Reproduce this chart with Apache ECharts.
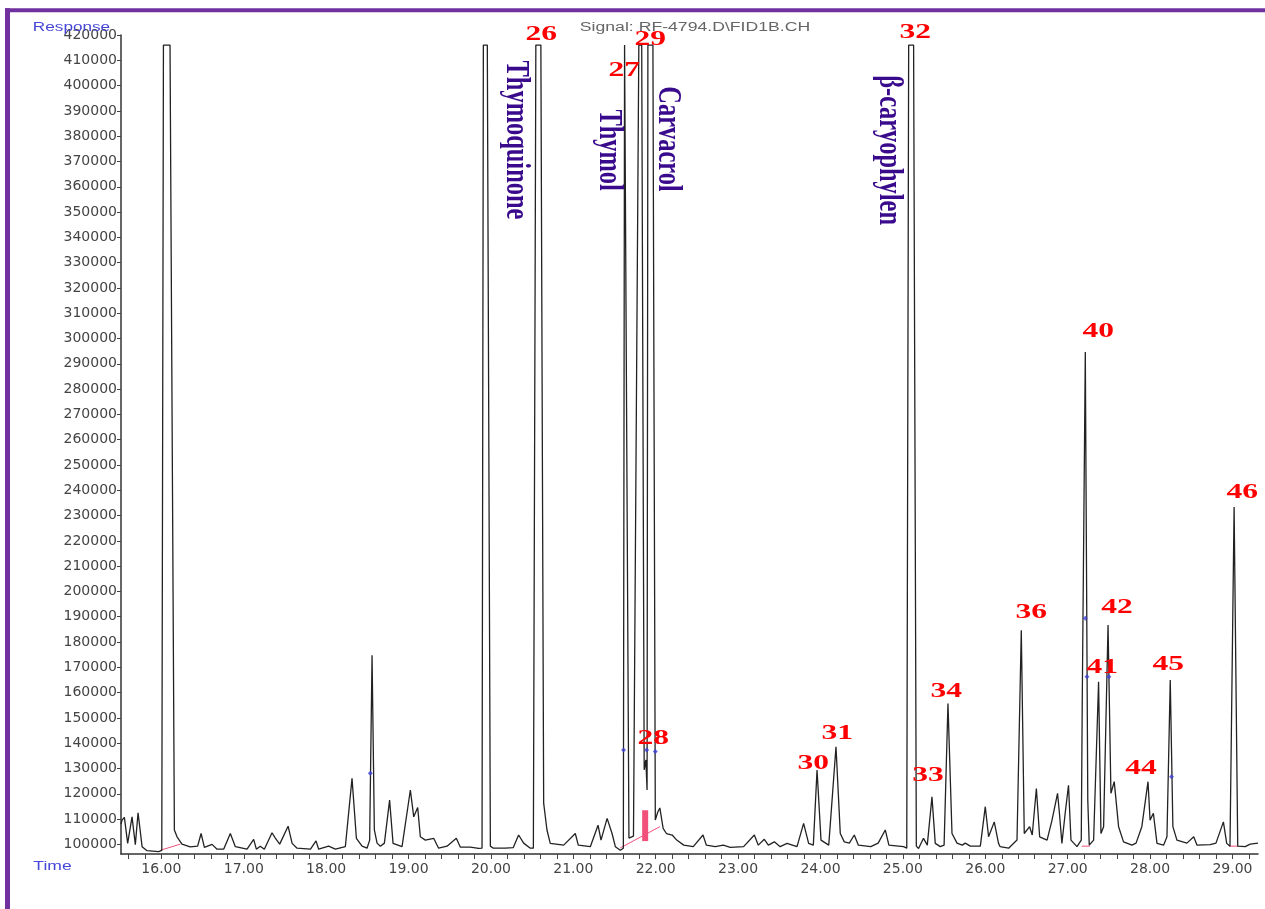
<!DOCTYPE html>
<html>
<head>
<meta charset="utf-8">
<script src="https://cdn.jsdelivr.net/npm/echarts@6/dist/echarts.min.js"></script>
<style>
html,body{margin:0;padding:0;background:#fff;}
#c{width:1265px;height:909px;}
</style>
</head>
<body>
<div id="c"></div>
<script>
// ---- data ----
const xTickLabels = [16,17,18,19,20,21,22,23,24,25,26,27,28,29];
const yTickLabels = [100000,110000,120000,130000,140000,150000,160000,170000,180000,190000,200000,
  210000,220000,230000,240000,250000,260000,270000,280000,290000,300000,310000,320000,330000,
  340000,350000,360000,370000,380000,390000,400000,410000,420000];

// signal trace: [time (min), response]
const trace = [
[15.51,108000],[15.523,109600],[15.551,110700],[15.591,100400],[15.644,110900],[15.684,99900],[15.717,112500],[15.766,99100],[15.826,97500],[15.967,97100],
[16.005,97600],[16.025,416000],[16.105,416000],[16.158,105700],[16.19,103000],[16.25,100100],[16.35,99000],
[16.44,99300],[16.482,104300],[16.522,98800],[16.615,100000],[16.676,98100],[16.756,98100],[16.837,104300],[16.898,99100],[17.04,98100],[17.12,102000],[17.153,98100],[17.20,99300],[17.25,98100],[17.343,104600],[17.383,102500],[17.436,100100],[17.538,107200],[17.587,100400],[17.647,98500],[17.81,98100],[17.877,101400],[17.909,98100],[18.03,99300],[18.112,98100],[18.233,99100],[18.314,126100],[18.367,102400],[18.436,99300],[18.496,98500],[18.528,101700],[18.557,174800],[18.585,105700],[18.618,100500],[18.658,99300],[18.707,100500],[18.77,117500],[18.812,100400],[18.921,99100],[19.022,121500],[19.063,110900],[19.111,114600],[19.143,103000],[19.204,101700],[19.305,102400],[19.365,98500],[19.467,99300],[19.58,102400],[19.629,98900],[19.75,98900],[19.85,98400],
[19.892,98500],[19.908,416000],[19.956,416000],[19.993,99300],[20.029,98500],[20.175,98500],[20.27,98700],[20.336,103700],[20.397,100500],[20.478,98500],
[20.515,98500],[20.545,416000],[20.606,416000],[20.64,116300],[20.68,105700],[20.72,100400],[20.883,99700],[21.024,104300],[21.06,99700],[21.206,99100],[21.30,107600],[21.336,101700],[21.41,110300],[21.47,104300],[21.51,99100],[21.57,97700],
[21.607,98500],[21.622,416000],[21.634,416000],[21.675,102500],[21.73,103300],[21.795,416000],[21.83,416000],[21.86,129500],[21.88,133400],[21.895,121500],[21.905,416000],[21.966,416000],[21.995,109600],[22.025,112800],[22.05,114400],[22.09,106300],[22.13,104300],[22.20,103700],[22.255,101700],[22.34,99700],
[22.456,99100],[22.574,103700],[22.614,99700],[22.723,99100],[22.82,99700],[22.905,98800],[23.067,99100],[23.197,103700],[23.245,99700],[23.318,102000],[23.367,99700],[23.44,101000],[23.51,99100],[23.594,100400],[23.715,99100],[23.795,108300],[23.856,100400],[23.913,99700],[23.958,129400],[24.006,101700],[24.10,99700],[24.188,138600],[24.24,104300],[24.289,101000],[24.35,100500],[24.41,103700],[24.46,99700],[24.61,99100],[24.70,100500],[24.786,105700],[24.83,99700],[25.008,99100],
[25.047,98500],[25.07,416000],[25.13,416000],[25.163,99300],[25.19,98400],[25.25,102400],[25.296,99700],[25.353,118800],[25.393,100400],[25.454,99100],[25.50,99700],[25.547,155700],[25.596,104300],[25.657,100500],[25.72,99700],[25.757,100500],[25.818,99300],[25.94,99300],[26.00,114900],[26.04,103000],[26.109,108900],[26.16,100500],[26.18,99100],[26.283,98500],[26.385,101700],[26.437,184700],[26.473,104300],[26.538,107000],[26.57,103700],[26.62,122100],[26.66,103000],[26.75,101700],[26.81,109600],[26.877,120200],[26.90,112300],[26.93,100400],[26.97,112400],[27.01,123400],[27.04,101700],[27.113,99100],
[27.165,101700],[27.177,157100],[27.214,294700],[27.244,117600],[27.262,99700],[27.315,101700],[27.375,164300],[27.404,104300],[27.436,107000],[27.49,186700],[27.525,120200],[27.565,124800],[27.618,107000],[27.678,101000],[27.78,99700],[27.83,100500],[27.90,107000],[27.975,124800],[28.00,109600],[28.04,112300],[28.084,100400],[28.164,99700],[28.205,103000],[28.245,165000],[28.277,107000],[28.326,101700],[28.447,100500],[28.53,103000],[28.57,99700],[28.73,99900],[28.80,100500],[28.89,108900],[28.93,100400],[28.97,99300],[29.02,233400],[29.064,99300],[29.155,99100],[29.215,100100],[29.31,100500]
];

// integration baselines (pink)
const baselineSegments = [
  [[15.99,97700],[16.23,100100]],
  [[21.57,98600],[22.05,107000]],
  [[27.17,99300],[27.27,99300]],
  [[28.96,99300],[29.07,99300]]
];
const shadedArea28 = [[21.872,101300],[21.872,113500]];

// integration event markers (blue)
const eventMarkers = [[18.536,128100],[21.61,137300],[21.89,137300],[21.995,136700],[27.214,189400],[27.234,166300],[27.50,166300],[28.26,126700]];

// peak numbers: [label, time, response]
const peakNumbers = [
  ['26',20.612,420000],['27',21.619,406100],['29',21.934,418000],['32',25.15,420800],
  ['28',21.97,142000],['30',23.913,132100],['31',24.204,144000],['33',25.305,127400],
  ['34',25.527,160600],['36',26.558,191500],['40',27.371,302600],['41',27.42,170100],
  ['42',27.60,193800],['44',27.89,129800],['45',28.22,170900],['46',29.119,238900]
];
// compound names: [label, time, response] (centre of rotated text)
const compoundNames = [
  ['Thymoquinone',20.296,378500],['Thymol',21.425,374500],
  ['Carvacrol',22.141,378900],['β-caryophylen',24.823,374500]
];

// ---- chart ----
const minorTicks = [];
for (let k = 78; k <= 146; k++) minorTicks.push(+(k*0.2).toFixed(1));

const chart = echarts.init(document.getElementById('c'));
const series = [{
  type:'line', data: trace, showSymbol:false, symbol:'none',
  lineStyle:{color:'#222', width:1.3}, z:3, animation:false
}];
baselineSegments.forEach(seg => series.push({
  type:'line', data: seg, showSymbol:false, symbol:'none',
  lineStyle:{color:'#f0507a', width:1}, z:2, animation:false
}));
series.push({type:'line', data: shadedArea28, showSymbol:false, symbol:'none',
  lineStyle:{color:'#f0507a', width:6}, z:2, animation:false});
series.push({type:'scatter', data: eventMarkers, symbol:'diamond', symbolSize:5,
  itemStyle:{color:'#3d3dd6'}, z:4, animation:false});

chart.setOption({
  animation:false,
  backgroundColor:'#ffffff',
  grid:{left:121, right:7, top:35, bottom:55},
  xAxis:{
    type:'value', min:15.51, max:29.31,
    axisLine:{show:true, lineStyle:{color:'#333', width:1.5}},
    axisTick:{show:true, customValues:minorTicks, length:5, lineStyle:{color:'#444', width:1}},
    axisLabel:{customValues:xTickLabels, formatter:v=>Number(v).toFixed(2), margin:8,
      fontFamily:'DejaVu Sans', fontSize:14, color:'#444'},
    splitLine:{show:false}
  },
  yAxis:{
    type:'value', min:96200, max:420000,
    axisLine:{show:true, lineStyle:{color:'#333', width:1.5}},
    axisTick:{show:true, customValues:yTickLabels, length:4, lineStyle:{color:'#444', width:1}},
    axisLabel:{customValues:yTickLabels, formatter:v=>String(Math.round(v)), margin:4,
      fontFamily:'DejaVu Sans', fontSize:14, color:'#444'},
    splitLine:{show:false}
  },
  series: series
});

const graphics = [
  {type:'line', shape:{x1:5, y1:10.3, x2:1265, y2:10.3}, style:{stroke:'#7030a0', lineWidth:4}, z:100},
  {type:'line', shape:{x1:7.5, y1:8.3, x2:7.5, y2:909}, style:{stroke:'#7030a0', lineWidth:5}, z:100},
  {type:'text', x:71.5, y:27.5, scaleX:1.43, z:50,
    style:{text:'Response', fill:'#4646d8', font:'12px "Liberation Sans"', textAlign:'center', textVerticalAlign:'middle', verticalAlign:'middle'}},
  {type:'text', x:52.5, y:867, scaleX:1.46, z:50,
    style:{text:'Time', fill:'#4646d8', font:'12px "Liberation Sans"', textAlign:'center', textVerticalAlign:'middle', verticalAlign:'middle'}},
  {type:'text', x:695, y:28, scaleX:1.47, z:50,
    style:{text:'Signal: RF-4794.D\\FID1B.CH', fill:'#666', font:'12px "Liberation Sans"', textAlign:'center', textVerticalAlign:'middle', verticalAlign:'middle'}}
];
peakNumbers.forEach(([txt,t,v]) => {
  const p = chart.convertToPixel({xAxisIndex:0, yAxisIndex:0}, [t, v]);
  graphics.push({type:'text', x:p[0], y:p[1], scaleX:1.5, z:60,
    style:{text:txt, fill:'#ff0000', font:'bold 21px "Liberation Serif"', textAlign:'center', textVerticalAlign:'middle', verticalAlign:'middle'}});
});
compoundNames.forEach(([txt,t,v]) => {
  const p = chart.convertToPixel({xAxisIndex:0, yAxisIndex:0}, [t, v]);
  graphics.push({type:'text', x:p[0], y:p[1], rotation:-Math.PI/2, scaleX:0.74, z:60,
    style:{text:txt, fill:'#3a0a8c', font:'bold 33px "Liberation Serif"', textAlign:'center', textVerticalAlign:'middle', verticalAlign:'middle'}});
});
chart.setOption({graphic: graphics});
</script>
</body>
</html>
